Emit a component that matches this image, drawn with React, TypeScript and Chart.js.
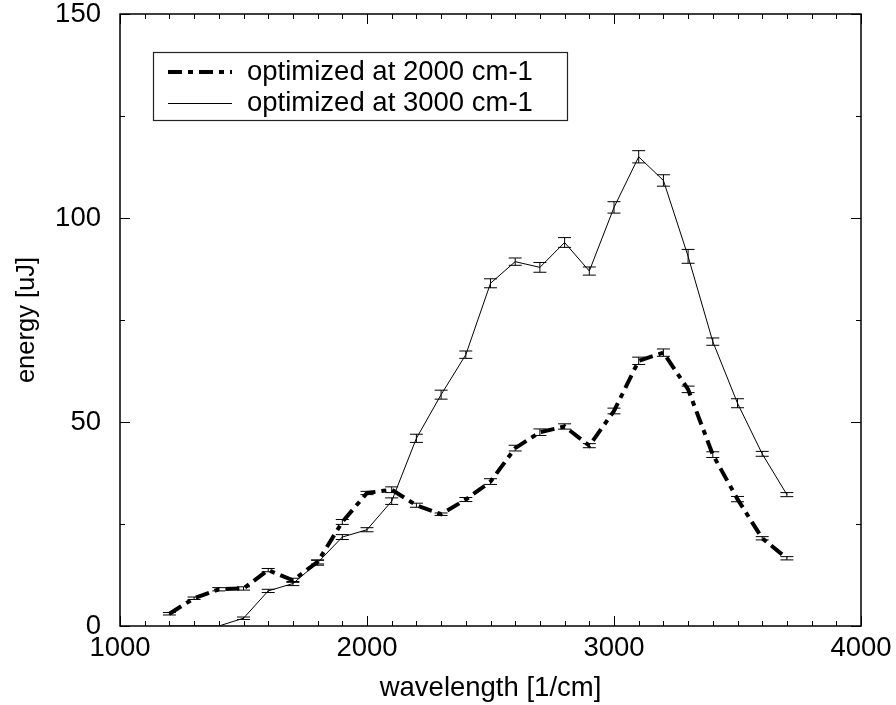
import React, { useEffect, useRef } from "react";
import { Chart, registerables } from "chart.js";

Chart.register(...registerables);

// wavelength grid, 1/cm
const wavelengths = [
  1200, 1300, 1400, 1500, 1600, 1700, 1800, 1900, 2000, 2100, 2200, 2300, 2400,
  2500, 2600, 2700, 2800, 2900, 3000, 3100, 3200, 3300, 3400, 3500, 3600, 3700,
];

// pulse energy (uJ) when optimized at 2000 cm-1
const energy2000 = [
  3.0, 6.8, 9.0, 9.2, 13.7, 11.2, 15.7, 25.5, 32.6, 33.4, 29.6, 27.4, 31.0,
  35.4, 43.6, 47.5, 48.9, 44.2, 52.7, 65.0, 67.0, 58.0, 42.0, 31.1, 21.5, 16.6,
];
const error2000 = [
  0.3, 0.3, 0.4, 0.4, 0.4, 0.5, 0.5, 0.6, 0.4, 0.7, 0.5, 0.3, 0.5,
  0.7, 0.7, 0.8, 0.65, 0.5, 0.7, 0.9, 0.9, 0.8, 0.7, 0.65, 0.4, 0.4,
];

// pulse energy (uJ) when optimized at 3000 cm-1
const energy3000 = [
  0, 0, 0, 1.9, 8.6, 10.4, 15.5, 21.8, 23.6, 30.6, 46.0, 56.7, 66.5,
  84.0, 89.3, 87.9, 94.0, 87.0, 102.6, 115.0, 109.2, 90.6, 69.7, 54.6, 42.2, 32.2,
];
const error3000 = [
  0, 0, 0, 0.3, 0.4, 0.5, 0.6, 0.6, 0.5, 0.8, 1.0, 1.1, 0.9,
  1.1, 0.9, 1.2, 1.2, 1.0, 1.4, 1.5, 1.4, 1.7, 0.9, 1.1, 0.6, 0.5,
];

const seriesLabels = ["optimized at 2000 cm-1", "optimized at 3000 cm-1"];
const xLabelValues = [1000, 2000, 3000, 4000];
const yLabelValues = [0, 50, 100, 150];

const FONT = "'Liberation Sans', Arial, Helvetica, sans-serif";
const FONT_SIZE = 27.5;
const DASH = [14, 6, 5, 6];

const errorBarPlugin = {
  id: "errorBars",
  afterDatasetsDraw(chart: any) {
    const ctx = chart.ctx;
    const xs = chart.scales.x;
    const ys = chart.scales.y;
    const errs = [error2000, error3000];
    ctx.save();
    ctx.strokeStyle = "#000";
    ctx.lineWidth = 1;
    ctx.setLineDash([]);
    chart.data.datasets.forEach((ds: any, di: number) => {
      ds.data.forEach((p: any, i: number) => {
        const e = errs[di][i];
        if (!e) return;
        const px = xs.getPixelForValue(p.x);
        const y1 = ys.getPixelForValue(p.y + e);
        const y2 = ys.getPixelForValue(p.y - e);
        ctx.beginPath();
        ctx.moveTo(px, y1);
        ctx.lineTo(px, y2);
        ctx.moveTo(px - 6.5, y1);
        ctx.lineTo(px + 6.5, y1);
        ctx.moveTo(px - 6.5, y2);
        ctx.lineTo(px + 6.5, y2);
        ctx.stroke();
      });
    });
    ctx.restore();
  },
};

// frame with inward ticks on all four sides, plus the boxed key
const framePlugin = {
  id: "frame",
  afterDraw(chart: any) {
    const ctx = chart.ctx;
    const { left, right, top, bottom } = chart.chartArea;
    const xs = chart.scales.x;
    const ys = chart.scales.y;
    ctx.save();
    ctx.strokeStyle = "#000";
    ctx.lineWidth = 1.5;
    ctx.setLineDash([]);
    ctx.strokeRect(left, top, right - left, bottom - top);
    ctx.lineWidth = 1;
    ctx.beginPath();
    for (let v = 1000; v <= 4000; v += 100) {
      const len = v % 1000 === 0 ? 10 : 5;
      const px = Math.round(xs.getPixelForValue(v)) + 0.5;
      ctx.moveTo(px, bottom);
      ctx.lineTo(px, bottom - len);
      ctx.moveTo(px, top);
      ctx.lineTo(px, top + len);
    }
    for (let v = 0; v <= 150; v += 25) {
      const len = v % 50 === 0 ? 10 : 5;
      const py = Math.round(ys.getPixelForValue(v)) + 0.5;
      ctx.moveTo(left, py);
      ctx.lineTo(left + len, py);
      ctx.moveTo(right, py);
      ctx.lineTo(right - len, py);
    }
    ctx.stroke();

    // key
    const bx = 153.5;
    const by = 52.5;
    ctx.lineWidth = 1.2;
    ctx.strokeStyle = "#222";
    ctx.fillStyle = "#fff";
    ctx.fillRect(bx, by, 414, 68);
    ctx.strokeRect(bx, by, 414, 68);
    const rows = [72, 103];
    ctx.strokeStyle = "#000";
    ctx.lineWidth = 4;
    ctx.setLineDash(DASH);
    ctx.beginPath();
    ctx.moveTo(168, rows[0]);
    ctx.lineTo(232, rows[0]);
    ctx.stroke();
    ctx.setLineDash([]);
    ctx.lineWidth = 1;
    ctx.beginPath();
    ctx.moveTo(168, rows[1] + 0.5);
    ctx.lineTo(232, rows[1] + 0.5);
    ctx.stroke();
    ctx.fillStyle = "#000";
    ctx.font = `${FONT_SIZE}px ${FONT}`;
    ctx.textBaseline = "middle";
    ctx.textAlign = "left";
    ctx.fillText(seriesLabels[0], 247, rows[0]);
    ctx.fillText(seriesLabels[1], 247, rows[1]);
    ctx.restore();
  },
};

export default function App() {
  const canvasRef = useRef<HTMLCanvasElement | null>(null);

  useEffect(() => {
    document.body.style.margin = "0";
    const canvas = canvasRef.current;
    if (!canvas) return;

    const chart = new Chart(canvas, {
      type: "line",
      data: {
        datasets: [
          {
            label: seriesLabels[0],
            data: wavelengths.map((x, i) => ({ x, y: energy2000[i] })),
            borderColor: "#000",
            borderWidth: 4,
            borderDash: DASH,
            pointRadius: 0,
            fill: false,
            tension: 0,
          },
          {
            label: seriesLabels[1],
            data: wavelengths.map((x, i) => ({ x, y: energy3000[i] })),
            borderColor: "#000",
            borderWidth: 1,
            pointRadius: 0,
            fill: false,
            tension: 0,
          },
        ],
      },
      options: {
        animation: false,
        responsive: false,
        devicePixelRatio: 1,
        layout: { padding: { top: 14, right: 35, left: 0, bottom: 0 } },
        plugins: {
          legend: { display: false },
          tooltip: { enabled: false },
        },
        scales: {
          x: {
            type: "linear",
            min: 1000,
            max: 4000,
            grid: { display: false, drawTicks: false },
            border: { display: false },
            afterFit: (s: any) => {
              s.height = 79;
              s.paddingLeft = 0;
              s.paddingRight = 0;
            },
            afterBuildTicks: (s: any) => {
              s.ticks = xLabelValues.map((v) => ({ value: v }));
            },
            ticks: {
              autoSkip: false,
              maxRotation: 0,
              padding: 6,
              color: "#000",
              font: { family: FONT, size: FONT_SIZE },
              callback: (v: any) => String(v),
            },
            title: {
              display: true,
              text: "wavelength [1/cm]",
              color: "#000",
              font: { family: FONT, size: FONT_SIZE },
              padding: { top: 0, bottom: 0 },
            },
          },
          y: {
            type: "linear",
            min: 0,
            max: 150,
            grid: { display: false, drawTicks: false },
            border: { display: false },
            afterFit: (s: any) => {
              s.width = 120;
              s.paddingTop = 0;
              s.paddingBottom = 0;
            },
            afterBuildTicks: (s: any) => {
              s.ticks = yLabelValues.map((v) => ({ value: v }));
            },
            ticks: {
              autoSkip: false,
              padding: 19,
              color: "#000",
              font: { family: FONT, size: FONT_SIZE },
              callback: (v: any) => String(v),
            },
            title: {
              display: true,
              text: "energy [uJ]",
              color: "#000",
              font: { family: FONT, size: 25.5 },
              padding: { top: 12, bottom: 0 },
            },
          },
        },
      },
      plugins: [errorBarPlugin, framePlugin],
    });

    return () => chart.destroy();
  }, []);

  return <canvas ref={canvasRef} width={896} height={705} style={{ display: "block" }} />;
}
